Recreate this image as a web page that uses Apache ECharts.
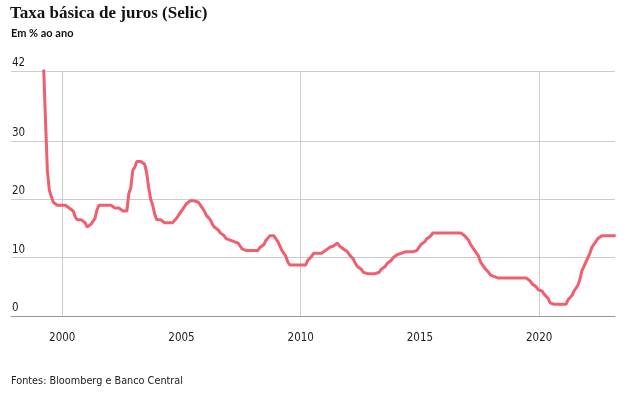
<!DOCTYPE html>
<html>
<head>
<meta charset="utf-8">
<script src="https://cdn.jsdelivr.net/npm/echarts@6/dist/echarts.min.js"></script>
<style>
  html, body { margin: 0; padding: 0; background: #fff; }
  #chart { width: 625px; height: 396px; }
</style>
</head>
<body>
<div id="chart"></div>
<script>
// monthly Selic target, starting March 1999
var startYear = 1999, startMonth = 3;
var rates = [
    44, 34, 25, 21.5, 20.5, 19.5, 19.25, 19, 19, 19,                              // 1999
    19, 19, 18.75, 18.5, 18.5, 18, 17, 16.5, 16.5, 16.5, 16.5, 16,                // 2000
    15.25, 15.25, 15.75, 16.25, 16.75, 18.25, 19, 19, 19, 19, 19, 19,             // 2001
    19, 18.75, 18.5, 18.5, 18.5, 18.5, 18, 18, 18, 21, 22, 25,                    // 2002
    25.5, 26.5, 26.5, 26.5, 26.5, 26, 24.5, 22, 20, 19, 17.5, 16.5,               // 2003
    16.5, 16.5, 16.25, 16, 16, 16, 16, 16, 16.25, 16.75, 17.25, 17.75,            // 2004
    18.25, 18.75, 19.25, 19.5, 19.75, 19.75, 19.75, 19.75, 19.5, 19, 18.5, 18,    // 2005
    17.25, 17.25, 16.5, 15.75, 15.25, 15.25, 14.75, 14.25, 14.25, 13.75, 13.25, 13.25, // 2006
    13, 13, 12.75, 12.5, 12.5, 12, 11.5, 11.5, 11.25, 11.25, 11.25, 11.25,        // 2007
    11.25, 11.25, 11.25, 11.75, 11.75, 12.25, 13, 13, 13.75, 13.75, 13.75, 13.75, // 2008
    12.75, 12.75, 11.25, 11.25, 10.25, 9.25, 8.75, 8.75, 8.75, 8.75, 8.75, 8.75,  // 2009
    8.75, 8.75, 8.75, 9.5, 9.5, 10.25, 10.75, 10.75, 10.75, 10.75, 10.75, 10.75,  // 2010
    11.25, 11.25, 11.75, 12, 12, 12.25, 12.5, 12, 12, 11.5, 11.5, 11,             // 2011
    10.5, 10.5, 9.75, 9, 8.5, 8.5, 8, 7.5, 7.5, 7.25, 7.25, 7.25,                 // 2012
    7.25, 7.25, 7.25, 7.5, 8, 8, 8.5, 9, 9, 9.5, 10, 10,                          // 2013
    10.5, 10.75, 10.75, 11, 11, 11, 11, 11, 11, 11.25, 11.25, 11.75,              // 2014
    12.25, 12.25, 12.75, 13.25, 13.25, 13.75, 14.25, 14.25, 14.25, 14.25, 14.25, 14.25, // 2015
    14.25, 14.25, 14.25, 14.25, 14.25, 14.25, 14.25, 14.25, 14.25, 14, 13.75, 13.75, // 2016
    13, 12.25, 12.25, 11.25, 11.25, 10.25, 9.25, 9.25, 8.25, 8.25, 7.5, 7,        // 2017
    7, 6.75, 6.5, 6.5, 6.5, 6.5, 6.5, 6.5, 6.5, 6.5, 6.5, 6.5,                    // 2018
    6.5, 6.5, 6.5, 6.5, 6.5, 6.5, 6.5, 6, 5.5, 5.5, 5, 4.5,                       // 2019
    4.5, 4.25, 3.75, 3.75, 3, 2.25, 2.25, 2, 2, 2, 2, 2,                          // 2020
    2, 2, 2.75, 2.75, 3.5, 4.25, 4.25, 5.25, 6.25, 7.75, 7.75, 9.25,              // 2021
    9.25, 10.75, 11.75, 11.75, 12.75, 13.25, 13.25, 13.75, 13.75, 13.75, 13.75, 13.75, // 2022
    13.75, 13.75, 13.75                                                           // 2023
];
var yearLabels = [2000, 2005, 2010, 2015, 2020];
var yearGrid = [2000, 2010, 2020];
var yTicks = [0, 10, 20, 30, 42];

var points = [];
for (var i = 0; i < rates.length; i++) {
    var m = startMonth - 1 + i;
    var x = startYear + Math.floor(m / 12) + ((m % 12) + 0.5) / 12;
    points.push([x, rates[i]]);
}

var labelFont = 'DejaVu Sans Condensed';
var myChart = echarts.init(document.getElementById('chart'));
var option = {
    backgroundColor: '#fff',
    animation: false,
    title: [
        {
            text: 'Taxa básica de juros (Selic)',
            left: 10,
            top: 5,
            padding: 0,
            textStyle: { fontFamily: 'Liberation Serif', fontWeight: 'bold', fontSize: 17, color: '#111' }
        },
        {
            text: 'Em % ao ano',
            left: 11,
            top: 28,
            padding: 0,
            textStyle: { fontFamily: 'Lato', fontWeight: 'bold', fontSize: 11, color: '#111' }
        },
        {
            text: 'Fontes: Bloomberg e Banco Central',
            left: 11,
            top: 376,
            padding: 0,
            textStyle: { fontFamily: labelFont, fontWeight: 'normal', fontSize: 10.8, color: '#222' }
        }
    ],
    grid: {
        left: 11,
        right: 10,
        top: 71,
        bottom: 80
    },
    xAxis: {
        type: 'value',
        min: 1997.85,
        max: 2023.18,
        axisLine: { show: true, lineStyle: { color: '#999', width: 1 } },
        axisTick: { show: false, customValues: yearGrid },
        axisLabel: {
            customValues: yearLabels,
            margin: 16,
            fontFamily: labelFont,
            fontSize: 11.5,
            color: '#222',
            formatter: function (v) { return String(v); }
        },
        splitLine: { show: true, lineStyle: { color: '#ccc', width: 1 } }
    },
    yAxis: {
        type: 'value',
        min: 0,
        max: 42,
        axisLine: { show: false },
        axisTick: { show: false, customValues: yTicks },
        axisLabel: {
            customValues: yTicks,
            inside: true,
            margin: 1,
            verticalAlign: 'bottom',
            padding: [0, 0, 2, 0],
            fontFamily: labelFont,
            fontSize: 11.5,
            color: '#222'
        },
        splitLine: { show: true, lineStyle: { color: '#ccc', width: 1 } }
    },
    series: [{
        type: 'line',
        data: points,
        showSymbol: false,
        symbol: 'none',
        clip: true,
        lineStyle: { color: '#ef5f6e', width: 3 }
    }]
};
myChart.setOption(option);
</script>
</body>
</html>
